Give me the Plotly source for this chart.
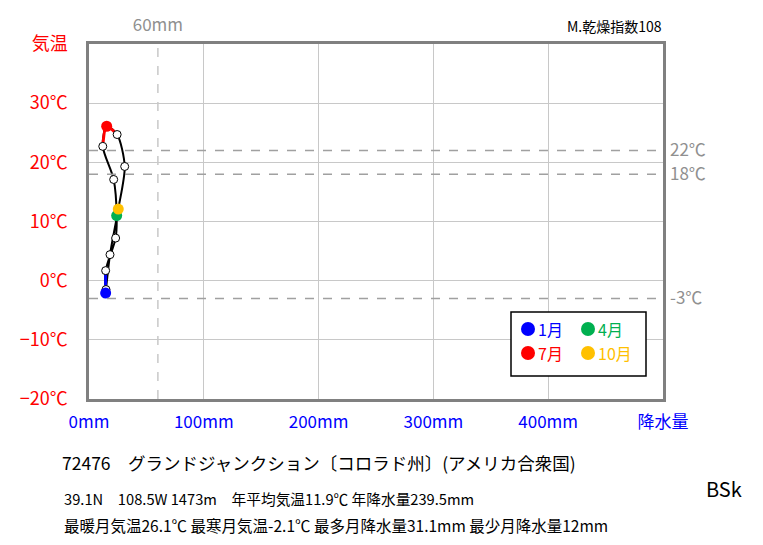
import plotly.graph_objects as go

# ---- data ----
months = [1, 2, 3, 4, 5, 6, 7, 8, 9, 10, 11, 12]
precip = [14.5, 14.5, 23.2, 24.1, 21.5, 12.0, 15.4, 24.5, 31.1, 25.5, 18.3, 14.8]
temp = [-2.1, 1.7, 7.2, 11.0, 17.1, 22.7, 26.1, 24.7, 19.3, 12.1, 4.4, -1.5]
highlight = {1: "#0000ff", 4: "#00b050", 7: "#ff0000", 10: "#ffc000"}
x_ticks = [0, 100, 200, 300, 400, 500]
x_labels = ["0mm", "100mm", "200mm", "300mm", "400mm", "降水量"]
y_ticks = [-20, -10, 0, 10, 20, 30, 40]
y_labels = ["−20℃", "−10℃", "0℃", "10℃", "20℃", "30℃", "気温"]
ref_temps = [22, 18, -3]
ref_labels = ["22℃", "18℃", "-3℃"]
ref_precip = 60

FONT = "Noto Sans CJK JP"
fig = go.Figure()

# closed curve
lx = precip + [precip[0]]
ly = temp + [temp[0]]
fig.add_trace(go.Scatter(x=lx, y=ly, mode="lines",
                         line=dict(color="black", width=2, shape="spline", smoothing=0.8),
                         showlegend=False, hoverinfo="skip"))

# coloured segments around Jan and Jul
def idx(m):
    return (m - 1) % 12

for m in (1, 7):
    ids = [idx(m - 1), idx(m), idx(m + 1)]
    fig.add_trace(go.Scatter(x=[precip[i] for i in ids], y=[temp[i] for i in ids], mode="lines",
                             line=dict(color=highlight[m], width=3, shape="spline", smoothing=0.8),
                             showlegend=False, hoverinfo="skip"))

# white markers
wx = [p for p, m in zip(precip, months) if m not in highlight]
wy = [t for t, m in zip(temp, months) if m not in highlight]
fig.add_trace(go.Scatter(x=wx, y=wy, mode="markers",
                         marker=dict(color="white", size=8, line=dict(color="black", width=1)),
                         showlegend=False))
for m, c in highlight.items():
    fig.add_trace(go.Scatter(x=[precip[m - 1]], y=[temp[m - 1]], mode="markers",
                             marker=dict(color=c, size=11, line=dict(width=0)),
                             showlegend=False))

# dummy for secondary axes
fig.add_trace(go.Scatter(x=[None], y=[None], xaxis="x2", yaxis="y2", showlegend=False))

# reference lines
for t in ref_temps:
    fig.add_shape(type="line", xref="x", yref="y", x0=0, x1=500, y0=t, y1=t,
                  line=dict(color="#a0a0a0", width=1.5, dash="dash"))
fig.add_shape(type="line", xref="x", yref="y", x0=ref_precip, x1=ref_precip, y0=-20, y1=40,
              line=dict(color="#c8c8c8", width=1.5, dash="dash"))


def px(xp):
    return (xp - 89) / 574


def py(yp):
    return (399 - yp) / 355


# legend box
fig.add_shape(type="rect", xref="paper", yref="paper", x0=px(511), x1=px(646), y0=py(376), y1=py(312),
              line=dict(color="black", width=1.5), fillcolor="white", layer="above")
leg = [(1, "1月", 528, 329), (4, "4月", 588, 329), (7, "7月", 528, 353), (10, "10月", 588, 353)]
for m, txt, cx, cy in leg:
    fig.add_shape(type="circle", xref="paper", yref="paper",
                  x0=px(cx - 7), x1=px(cx + 7), y0=py(cy + 7), y1=py(cy - 7),
                  line=dict(width=0), fillcolor=highlight[m], layer="above")
    fig.add_annotation(xref="paper", yref="paper", x=px(cx + 8), y=py(cy), xanchor="left", yanchor="middle",
                       text=txt, showarrow=False,
                       font=dict(family=FONT, size=16, color=highlight[m]))

# bottom texts
fig.add_annotation(xref="paper", yref="paper", x=px(60), y=py(462), xanchor="left", yanchor="middle",
                   text="72476　グランドジャンクション〔コロラド州〕(アメリカ合衆国)", showarrow=False,
                   font=dict(family=FONT, size=17.5, color="black"))
fig.add_annotation(xref="paper", yref="paper", x=px(62), y=py(498), xanchor="left", yanchor="middle",
                   text="39.1N　108.5W 1473m　年平均気温11.9℃ 年降水量239.5mm", showarrow=False,
                   font=dict(family=FONT, size=14.7, color="black"))
fig.add_annotation(xref="paper", yref="paper", x=px(62), y=py(525), xanchor="left", yanchor="middle",
                   text="最暖月気温26.1℃ 最寒月気温-2.1℃ 最多月降水量31.1mm 最少月降水量12mm", showarrow=False,
                   font=dict(family=FONT, size=15.5, color="black"))
fig.add_annotation(xref="paper", yref="paper", x=px(744), y=py(488), xanchor="right", yanchor="middle",
                   text="BSk", showarrow=False, font=dict(family=FONT, size=20, color="black"))
fig.add_annotation(xref="paper", yref="paper", x=px(664), y=py(26), xanchor="right", yanchor="middle",
                   text="M.乾燥指数108", showarrow=False, font=dict(family=FONT, size=14, color="black"))

# page body has an 8px margin -> plot area shifted accordingly
fig.update_layout(
    width=763, height=545,
    margin=dict(l=81, r=108, t=36, b=154, autoexpand=False),
    paper_bgcolor="white", plot_bgcolor="white",
    showlegend=False,
    xaxis=dict(range=[0, 500], tickvals=x_ticks, ticktext=x_labels, showgrid=True,
               gridcolor="#c8c8c8", gridwidth=1, zeroline=False, showline=True, linecolor="#808080",
               linewidth=2.5, mirror=True, ticks="", ticklabelstandoff=6, automargin=False,
               tickfont=dict(family=FONT, size=17, color="#0000ff"), fixedrange=True),
    yaxis=dict(range=[-20, 40], tickvals=y_ticks, ticktext=y_labels, showgrid=True,
               gridcolor="#c8c8c8", gridwidth=1, zeroline=False, showline=True, linecolor="#808080",
               linewidth=2.5, mirror=True, ticks="", ticklabelstandoff=15, automargin=False,
               tickfont=dict(family=FONT, size=18, color="#ff0000"), fixedrange=True),
    xaxis2=dict(range=[0, 500], overlaying="x", side="top", tickvals=[ref_precip], ticktext=["60mm"],
                showgrid=False, zeroline=False, showline=False, ticks="", ticklabelstandoff=9,
                automargin=False,
                tickfont=dict(family=FONT, size=17, color="#909090"), fixedrange=True),
    yaxis2=dict(range=[-20, 40], overlaying="y", side="right", tickvals=ref_temps, ticktext=ref_labels,
                showgrid=False, zeroline=False, showline=False, ticks="", ticklabelstandoff=6,
                automargin=False,
                tickfont=dict(family=FONT, size=17, color="#909090"), fixedrange=True),
)

fig.write_html("out.html")
